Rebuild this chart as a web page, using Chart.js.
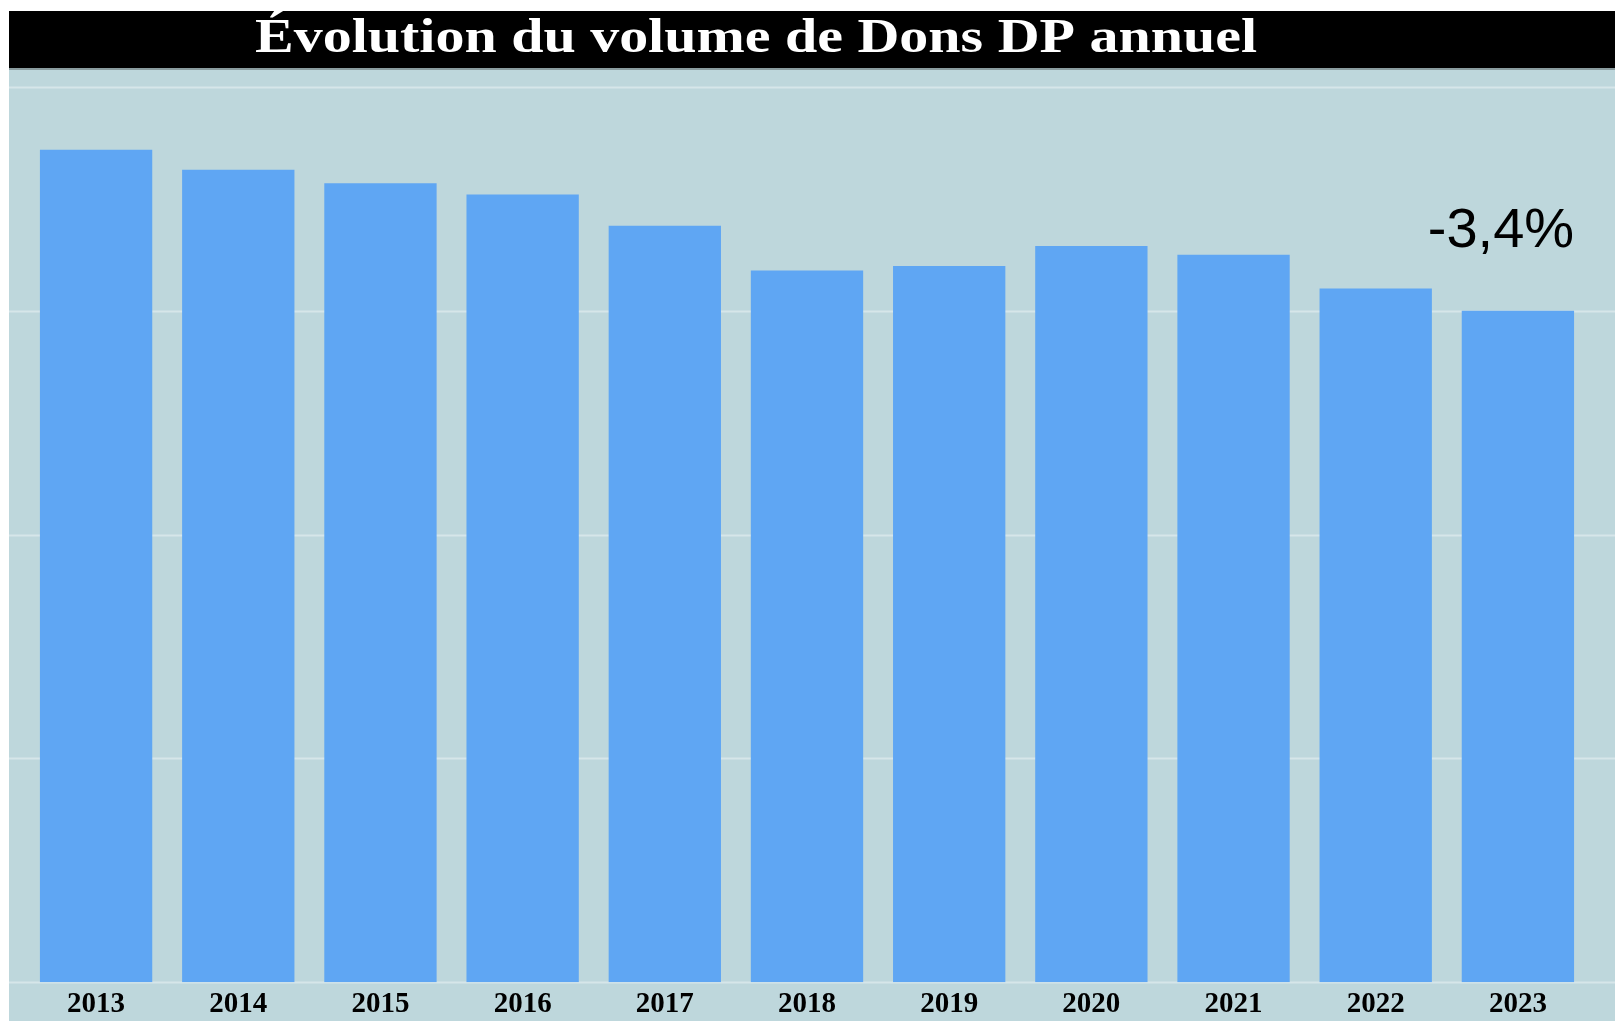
<!DOCTYPE html>
<html>
<head>
<meta charset="utf-8">
<script src="https://cdn.jsdelivr.net/npm/chart.js@4.4.0/dist/chart.umd.min.js"></script>
<style>
  body { margin: 0; background: #ffffff; }
  #wrap { width: 1615px; height: 1021px; }
</style>
</head>
<body>
<div id="wrap"><canvas id="donsChart" width="1615" height="1021"></canvas></div>
<script>
var years = ['2013', '2014', '2015', '2016', '2017', '2018', '2019', '2020', '2021', '2022', '2023'];
var volumes = [372, 363, 357, 352, 338, 318, 320, 329, 325, 310, 300];
var gridValues = [0, 100, 200, 300, 400];
var titleText = 'Évolution du volume de Dons DP annuel';
var changeText = '-3,4%';

// fond, bandeau de titre et lignes de grille sur toute la largeur
var backdrop = {
    id: 'backdrop',
    beforeDraw: function (chart) {
        var ctx = chart.ctx;
        var y = chart.scales.y;
        ctx.save();
        ctx.fillStyle = '#ffffff';
        ctx.fillRect(0, 0, chart.width, chart.height);
        ctx.fillStyle = '#bed7dc';
        ctx.fillRect(9, 69, chart.width - 9, chart.height - 69);
        ctx.fillStyle = '#000000';
        ctx.fillRect(9, 11, chart.width - 9, 58);
        ctx.fillStyle = '#8a9c9f';
        ctx.fillRect(9, 68, chart.width - 9, 2);

        // le titre d'origine est étiré en largeur
        ctx.fillStyle = '#ffffff';
        ctx.font = 'bold 48px "Liberation Serif", "Times New Roman", serif';
        ctx.textAlign = 'left';
        ctx.textBaseline = 'alphabetic';
        var w = ctx.measureText(titleText).width;
        ctx.translate(255, 52);
        ctx.scale(1002 / w, 1);
        ctx.fillText(titleText, 0, 0);
        ctx.setTransform(1, 0, 0, 1, 0, 0);

        ctx.strokeStyle = '#d6e6e9';
        ctx.lineWidth = 2;
        gridValues.forEach(function (v) {
            var py = Math.round(y.getPixelForValue(v)) + 0.5;
            ctx.beginPath();
            ctx.moveTo(9, py);
            ctx.lineTo(chart.width, py);
            ctx.stroke();
        });
        ctx.restore();
    },
    afterDatasetsDraw: function (chart) {
        var ctx = chart.ctx;
        var bars = chart.getDatasetMeta(0).data;
        var last = bars[bars.length - 1];
        ctx.save();
        ctx.fillStyle = '#000000';
        ctx.font = '56px "Liberation Sans", Arial, sans-serif';
        ctx.textAlign = 'right';
        ctx.textBaseline = 'alphabetic';
        ctx.fillText(changeText, last.x + last.width / 2, last.y - 64);
        ctx.restore();
    }
};

var ctx = document.getElementById('donsChart').getContext('2d');
var donsChart = new Chart(ctx, {
    type: 'bar',
    data: {
        labels: years,
        datasets: [{
            label: 'Volume de dons',
            data: volumes,
            backgroundColor: '#5fa6f3',
            borderWidth: 0,
            barPercentage: 0.79,
            categoryPercentage: 1
        }]
    },
    options: {
        responsive: false,
        maintainAspectRatio: false,
        animation: false,
        layout: { padding: { top: 87, left: 25, right: 26, bottom: -5 } },
        plugins: {
            legend: { display: false },
            tooltip: { enabled: false }
        },
        scales: {
            x: {
                grid: { display: false, drawTicks: false },
                border: { display: false },
                ticks: {
                    color: '#000000',
                    padding: 7,
                    font: { family: '"Liberation Serif", "Times New Roman", serif', size: 29, weight: 'bold', lineHeight: 1.03 }
                }
            },
            y: {
                display: false,
                min: 0,
                max: 400
            }
        }
    },
    plugins: [backdrop]
});
</script>
</body>
</html>
